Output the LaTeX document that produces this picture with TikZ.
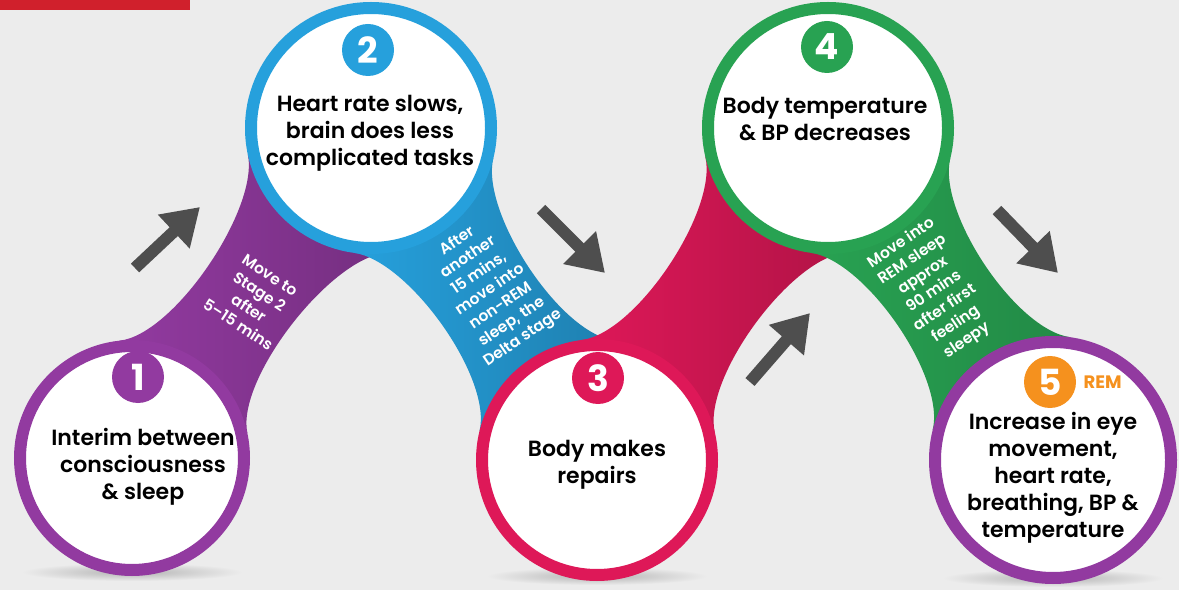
\documentclass[tikz,border=0pt]{standalone}
\usepackage{fontspec}
\setmainfont{Poppins}[BoldFont={Poppins SemiBold}]
\newfontfamily\numfont{Poppins Bold}
\usetikzlibrary{calc,arrows.meta,positioning}

\definecolor{bgrey}{RGB}{236,236,236}
\definecolor{spurple}{RGB}{146,58,160}
\definecolor{sblue}{RGB}{38,160,220}
\definecolor{spink}{RGB}{222,24,88}
\definecolor{sgreen}{RGB}{40,162,82}
\definecolor{sorange}{RGB}{245,145,30}
\definecolor{sarrow}{RGB}{78,78,78}
\definecolor{sred}{RGB}{208,32,44}

\tikzset{
    stage/.style={circle, fill=white, draw=#1, line width=12pt, inner sep=0pt},
    badge/.style={circle, fill=#1, text=white, minimum size=52pt, inner sep=0pt,
        font=\fontsize{36}{36}\selectfont\numfont},
    stagetext/.style={align=center, font=\fontsize{22}{27}\selectfont\bfseries},
    ribbontext/.style={align=center, text=white, font=\fontsize{15.5}{19.5}\selectfont\bfseries},
    bigarrow/.style={draw=sarrow, line width=12pt, -{Triangle[length=36pt,width=44pt]}}
}

\begin{document}
\begin{tikzpicture}[x=1pt,y=1pt]
        % Background
        \fill[bgrey] (0,0) rectangle (1179,590);
        \useasboundingbox (0,0) rectangle (1179,590);
        \fill[sred] (0,580) rectangle (190,590);

        \coordinate (c1) at (132,132);
        \coordinate (c2) at (371,462);
        \coordinate (c3) at (597,130);
        \coordinate (c4) at (828,462);
        \coordinate (c5) at (1053,130);

        % Shadows
        \shade[inner color=black!30, outer color=bgrey] ($(c1)+(0,-114)$) ellipse (110 and 9);
        \shade[inner color=black!30, outer color=bgrey] ($(c3)+(0,-116)$) ellipse (110 and 9);
        \shade[inner color=black!30, outer color=bgrey] ($(c5)+(0,-118)$) ellipse (110 and 9);

        % Ribbons
        \shade[left color=spurple, right color=spurple!80!black] ($(c1)+(96.1:118)$) .. controls +(6.1:55) and +(-77.9:55) .. ($(c2)+(192.1:126)$)
            -- ($(c2)+(276.1:126)$) .. controls +(186.1:55) and +(102.1:55) .. ($(c1)+(12.1:118)$) -- cycle;
        \shade[left color=sblue, right color=sblue!80!black] ($(c2)+(-13.8:126)$) .. controls +(-103.8:55) and +(172.2:55) .. ($(c3)+(82.2:121)$)
            -- ($(c3)+(166.2:121)$) .. controls +(76.2:55) and +(-7.8:55) .. ($(c2)+(-97.8:126)$) -- cycle;
        \shade[left color=spink, right color=spink!80!black] ($(c3)+(97.2:121)$) .. controls +(7.2:55) and +(-76.8:55) .. ($(c4)+(193.2:126)$)
            -- ($(c4)+(277.2:126)$) .. controls +(187.2:55) and +(103.2:55) .. ($(c3)+(13.2:121)$) -- cycle;
        \shade[left color=sgreen, right color=sgreen!85!black] ($(c4)+(-13.9:126)$) .. controls +(-103.9:55) and +(172.1:55) .. ($(c5)+(82.1:124)$)
            -- ($(c5)+(166.1:124)$) .. controls +(76.1:55) and +(-7.9:55) .. ($(c4)+(-97.9:126)$) -- cycle;

        \node[ribbontext, rotate=-33] (r1) at (254,290) {Move to\\Stage 2\\after\\5–15 mins};
        \node[ribbontext, rotate=34] (r2) at (490,300) {After\\another\\15 mins,\\move into\\non-REM\\sleep, the\\Delta stage};
        \node[ribbontext, rotate=34] (r4) at (934,298) {Move into\\REM sleep\\approx\\90 mins\\after first\\feeling\\sleepy};

        % Stage 1
        \node[stage=spurple, minimum size=224pt] (s1) at (c1) {};
        \node[badge=spurple] (b1) at (138,213) {1};
        \node[stagetext] (t1) at (143,123) {Interim between\\consciousness\\\& sleep};

        % Stage 2
        \node[stage=sblue, minimum size=240pt] (s2) at (c2) {};
        \node[badge=sblue] (b2) at (368,540) {2};
        \node[stagetext] (t2) at (370,457) {Heart rate slows,\\brain does less\\complicated tasks};

        % Stage 3
        \node[stage=spink, minimum size=230pt] (s3) at (c3) {};
        \node[badge=spink] (b3) at (598,212) {3};
        \node[stagetext] (t3) at (597,125) {Body makes\\repairs};

        % Stage 4
        \node[stage=sgreen, minimum size=240pt] (s4) at (c4) {};
        \node[badge=sgreen] (b4) at (827,543) {4};
        \node[stagetext] (t4) at (825,471) {Body temperature\\\& BP decreases};

        % Stage 5
        \node[stage=spurple, minimum size=236pt] (s5) at (c5) {};
        \node[badge=sorange] (b5) at (1050,208) {5};
        \node[right=4pt of b5, text=sorange, font=\fontsize{18}{18}\selectfont\numfont] (rem) {REM};
        \node[stagetext] (t5) at (1053,112) {Increase in eye\\movement,\\heart rate,\\breathing, BP \&\\temperature};

        % Arrows
        \coordinate (a1s) at (135,322);
        \coordinate (a1e) at (200,383);
        \coordinate (a2s) at (541,381);
        \coordinate (a2e) at (605,317);
        \coordinate (a3s) at (750,208);
        \coordinate (a3e) at (810,277);
        \coordinate (a4s) at (997,380);
        \coordinate (a4e) at (1058,317);
        \draw[bigarrow] (a1s) -- (a1e);
        \draw[bigarrow] (a2s) -- (a2e);
        \draw[bigarrow] (a3s) -- (a3e);
        \draw[bigarrow] (a4s) -- (a4e);
    \end{tikzpicture}
\end{document}
